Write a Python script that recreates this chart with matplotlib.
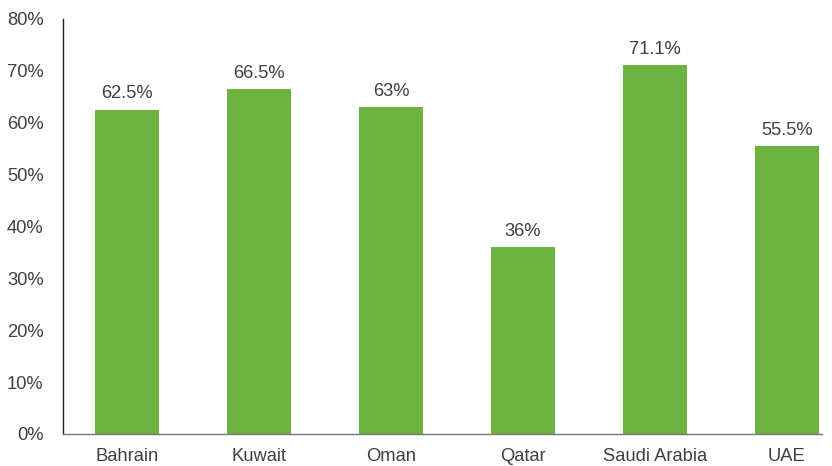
import matplotlib
matplotlib.use("Agg")
import matplotlib.pyplot as plt
from matplotlib.ticker import FuncFormatter

countries = ["Bahrain", "Kuwait", "Oman", "Qatar", "Saudi Arabia", "UAE"]
values = [62.5, 66.5, 63, 36, 71.1, 55.5]
labels = ["62.5%", "66.5%", "63%", "36%", "71.1%", "55.5%"]

plt.rcParams["font.family"] = ["Liberation Sans", "DejaVu Sans"]
text_color = "#404040"

fig = plt.figure(figsize=(8.32, 4.66), dpi=100)
ax = fig.add_axes([0.0757, 0.0687, 0.912, 0.891])

x = range(len(countries))
bars = ax.bar(x, values, width=0.485, color="#6db33f")

# value labels above each bar
for xi, v, lab in zip(x, values, labels):
    ax.text(xi, v + 1.4, lab, ha="center", va="bottom",
            fontsize=13.2, color=text_color)

ax.set_xlim(-0.485, 5.265)
ax.set_ylim(0, 80)
ax.set_yticks(range(0, 81, 10))
ax.yaxis.set_major_formatter(FuncFormatter(lambda v, p: "%d%%" % v))
ax.set_xticks(list(x))
ax.set_xticklabels(countries)

ax.tick_params(axis="both", length=0, labelsize=13.2, labelcolor=text_color)
ax.tick_params(axis="y", pad=14)
ax.tick_params(axis="x", pad=10)

ax.spines["top"].set_visible(False)
ax.spines["right"].set_visible(False)
ax.spines["left"].set_color("#222222")
ax.spines["left"].set_linewidth(1.0)
ax.spines["bottom"].set_color("#777777")
ax.spines["bottom"].set_linewidth(1.0)

fig.savefig("out.png", dpi=100)
